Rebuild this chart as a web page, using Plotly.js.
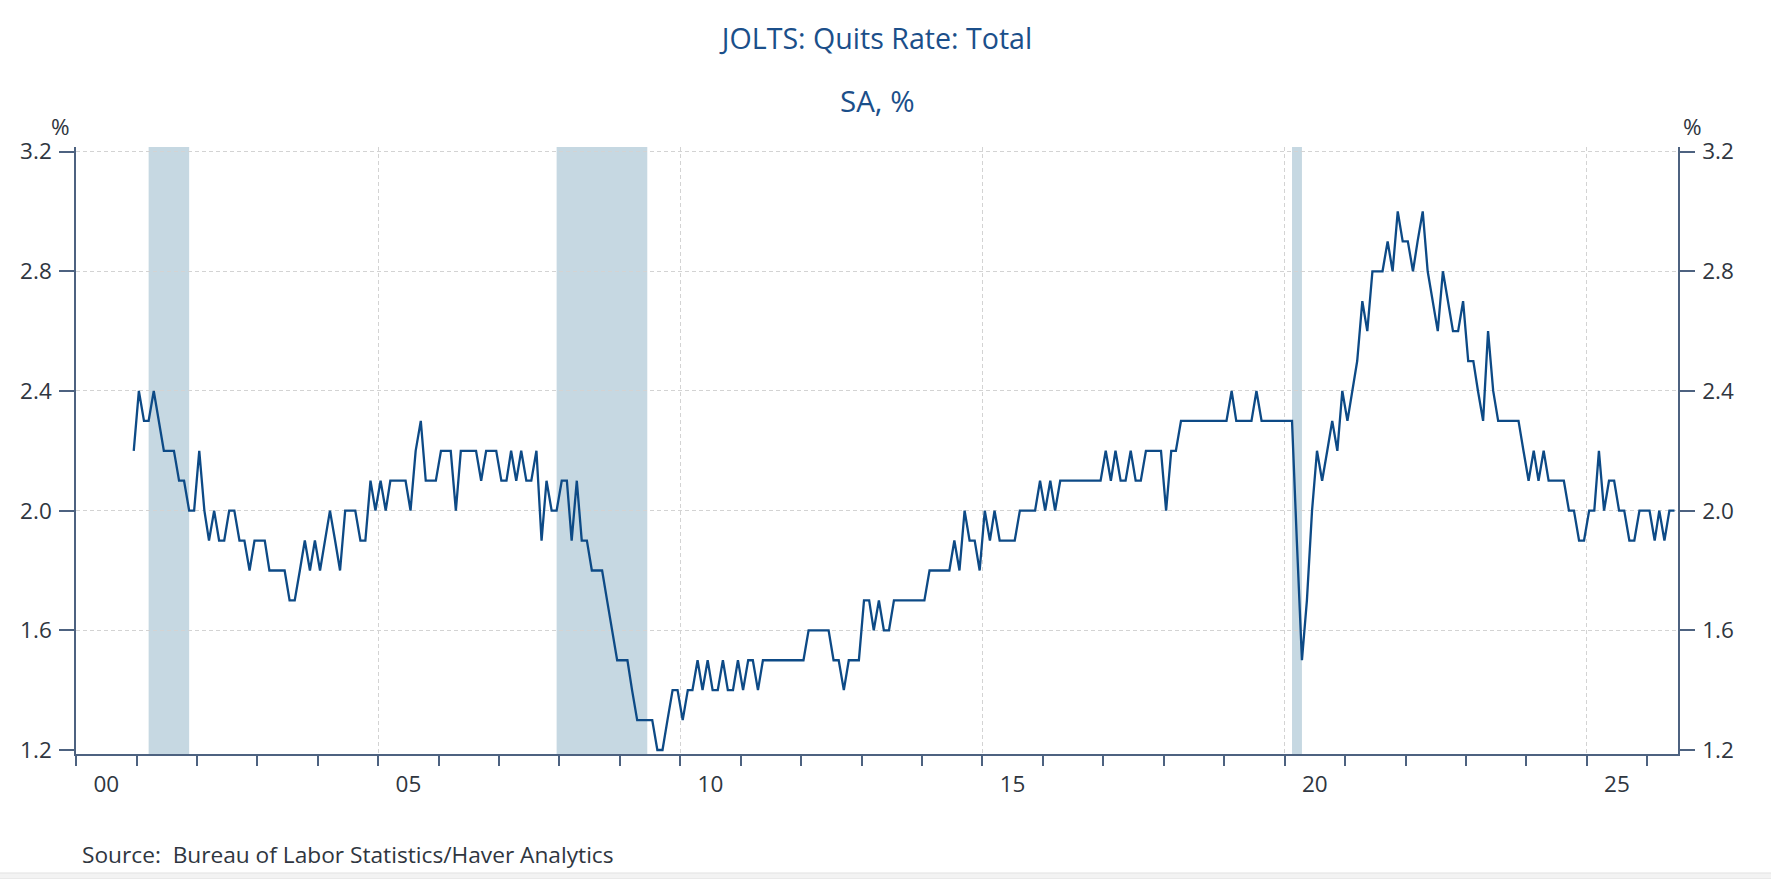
<!DOCTYPE html>
<html>
<head>
<meta charset="utf-8">
<script src="https://cdn.plot.ly/plotly-3.0.1.min.js"></script>
<style>
  html, body { margin: 0; padding: 0; background: #ffffff; }
  #chart { width: 1771px; height: 879px; }
</style>
</head>
<body>
<div id="chart"></div>
<script>
// JOLTS quits rate, monthly, SA, % (first value = Dec 2000)
const firstMonth = '2000-12';
const quitsRate = [
  2.2,                                                            // 2000 Dec
  2.4, 2.3, 2.3, 2.4, 2.3, 2.2, 2.2, 2.2, 2.1, 2.1, 2.0, 2.0,     // 2001
  2.2, 2.0, 1.9, 2.0, 1.9, 1.9, 2.0, 2.0, 1.9, 1.9, 1.8, 1.9,     // 2002
  1.9, 1.9, 1.8, 1.8, 1.8, 1.8, 1.7, 1.7, 1.8, 1.9, 1.8, 1.9,     // 2003
  1.8, 1.9, 2.0, 1.9, 1.8, 2.0, 2.0, 2.0, 1.9, 1.9, 2.1, 2.0,     // 2004
  2.1, 2.0, 2.1, 2.1, 2.1, 2.1, 2.0, 2.2, 2.3, 2.1, 2.1, 2.1,     // 2005
  2.2, 2.2, 2.2, 2.0, 2.2, 2.2, 2.2, 2.2, 2.1, 2.2, 2.2, 2.2,     // 2006
  2.1, 2.1, 2.2, 2.1, 2.2, 2.1, 2.1, 2.2, 1.9, 2.1, 2.0, 2.0,     // 2007
  2.1, 2.1, 1.9, 2.1, 1.9, 1.9, 1.8, 1.8, 1.8, 1.7, 1.6, 1.5,     // 2008
  1.5, 1.5, 1.4, 1.3, 1.3, 1.3, 1.3, 1.2, 1.2, 1.3, 1.4, 1.4,     // 2009
  1.3, 1.4, 1.4, 1.5, 1.4, 1.5, 1.4, 1.4, 1.5, 1.4, 1.4, 1.5,     // 2010
  1.4, 1.5, 1.5, 1.4, 1.5, 1.5, 1.5, 1.5, 1.5, 1.5, 1.5, 1.5,     // 2011
  1.5, 1.6, 1.6, 1.6, 1.6, 1.6, 1.5, 1.5, 1.4, 1.5, 1.5, 1.5,     // 2012
  1.7, 1.7, 1.6, 1.7, 1.6, 1.6, 1.7, 1.7, 1.7, 1.7, 1.7, 1.7,     // 2013
  1.7, 1.8, 1.8, 1.8, 1.8, 1.8, 1.9, 1.8, 2.0, 1.9, 1.9, 1.8,     // 2014
  2.0, 1.9, 2.0, 1.9, 1.9, 1.9, 1.9, 2.0, 2.0, 2.0, 2.0, 2.1,     // 2015
  2.0, 2.1, 2.0, 2.1, 2.1, 2.1, 2.1, 2.1, 2.1, 2.1, 2.1, 2.1,     // 2016
  2.2, 2.1, 2.2, 2.1, 2.1, 2.2, 2.1, 2.1, 2.2, 2.2, 2.2, 2.2,     // 2017
  2.0, 2.2, 2.2, 2.3, 2.3, 2.3, 2.3, 2.3, 2.3, 2.3, 2.3, 2.3,     // 2018
  2.3, 2.4, 2.3, 2.3, 2.3, 2.3, 2.4, 2.3, 2.3, 2.3, 2.3, 2.3,     // 2019
  2.3, 2.3, 1.9, 1.5, 1.7, 2.0, 2.2, 2.1, 2.2, 2.3, 2.2, 2.4,     // 2020
  2.3, 2.4, 2.5, 2.7, 2.6, 2.8, 2.8, 2.8, 2.9, 2.8, 3.0, 2.9,     // 2021
  2.9, 2.8, 2.9, 3.0, 2.8, 2.7, 2.6, 2.8, 2.7, 2.6, 2.6, 2.7,     // 2022
  2.5, 2.5, 2.4, 2.3, 2.6, 2.4, 2.3, 2.3, 2.3, 2.3, 2.3, 2.2,     // 2023
  2.1, 2.2, 2.1, 2.2, 2.1, 2.1, 2.1, 2.1, 2.0, 2.0, 1.9, 1.9,     // 2024
  2.0, 2.0, 2.2, 2.0, 2.1, 2.1, 2.0, 2.0, 1.9, 1.9, 2.0, 2.0,     // 2025
  2.0, 1.9, 2.0, 1.9, 2.0, 2.0                                    // 2026
];

// NBER recessions (peak month to trough month)
const recessionStart = ['2001-03-15', '2007-12-15', '2020-02-15'];
const recessionEnd   = ['2001-11-15', '2009-06-15', '2020-04-15'];

// axes
const xRange = ['2000-01-01', '2026-07-06'];
const xLabelYears = [2000, 2005, 2010, 2015, 2020, 2025];
const xLabelText = ['00', '05', '10', '15', '20', '25'];
const yTicks = [1.2, 1.6, 2.0, 2.4, 2.8, 3.2];
const yGrid = [1.6, 2.0, 2.4, 2.8, 3.2];
const yRange = [1.1866, 3.2154];

const axisColor = '#4d6280';
const textColor = '#2f3640';
const titleColor = '#1b4f8a';
const lineColor = '#0d4a86';
const gridColor = '#d3d3d3';
const fontFamily = '"Open Sans", "Noto Sans", sans-serif';

// monthly points are plotted mid-month
function monthDates(start, n) {
  let [y, m] = start.split('-').map(Number);
  const out = [];
  for (let i = 0; i < n; i++) {
    out.push(y + '-' + String(m).padStart(2, '0') + '-15');
    m++;
    if (m > 12) { m = 1; y++; }
  }
  return out;
}

const dates = monthDates(firstMonth, quitsRate.length);
const labelDates = xLabelYears.map(y => y + '-07-02');

const quitsTrace = {
  type: 'scatter',
  mode: 'lines',
  x: dates,
  y: quitsRate,
  xaxis: 'x',
  yaxis: 'y',
  line: { color: lineColor, width: 2.3 },
  hovertemplate: '%{x|%b %Y}: %{y:.1f}%<extra></extra>'
};

// invisible copies so the overlay axes get drawn
const ghostRight = {
  type: 'scatter', mode: 'lines', x: dates, y: quitsRate,
  xaxis: 'x2', yaxis: 'y2', opacity: 0, hoverinfo: 'skip', showlegend: false
};
const ghostGrid = {
  type: 'scatter', mode: 'lines', x: dates, y: quitsRate,
  xaxis: 'x', yaxis: 'y3', opacity: 0, hoverinfo: 'skip', showlegend: false
};

const recessionShapes = recessionStart.map((s, i) => ({
  type: 'rect',
  xref: 'x', yref: 'paper',
  x0: s, x1: recessionEnd[i],
  y0: 0, y1: 1,
  fillcolor: '#c6d8e2',
  line: { width: 0 },
  layer: 'between'
}));

// thin grey strip along the bottom edge of the picture
const bottomStrip = {
  type: 'rect', xref: 'paper', yref: 'paper',
  x0: -0.06, x1: 1.07, y0: -0.2058, y1: -0.1960,
  fillcolor: '#f3f3f3', line: { color: '#e2e2e2', width: 1 },
  layer: 'below'
};

const tickFont = { family: fontFamily, size: 22.5, color: textColor };

const layout = {
  width: 1771,
  height: 879,
  margin: { l: 76, r: 93, t: 147, b: 125, pad: 0 },
  paper_bgcolor: '#ffffff',
  plot_bgcolor: '#ffffff',
  showlegend: false,
  font: { family: fontFamily, color: textColor },
  title: {
    text: 'JOLTS: Quits Rate: Total',
    font: { family: fontFamily, size: 28.6, color: titleColor },
    xref: 'paper', x: 0.5, xanchor: 'center',
    yref: 'container', y: 0.9559, yanchor: 'middle'
  },
  xaxis: {
    type: 'date',
    range: xRange,
    tick0: '2000-01-01',
    dtick: 'M60',
    ticks: 'outside',
    ticklen: 10,
    tickwidth: 1.5,
    tickcolor: axisColor,
    showticklabels: false,
    showgrid: true,
    gridcolor: gridColor,
    griddash: '4px,3px',
    gridwidth: 1,
    showline: true,
    linecolor: axisColor,
    linewidth: 1.5,
    zeroline: false,
    minor: {
      tick0: '2000-01-01',
      dtick: 'M12',
      ticks: 'outside',
      ticklen: 10,
      tickwidth: 1.5,
      tickcolor: axisColor,
      showgrid: false
    }
  },
  xaxis2: {
    type: 'date',
    overlaying: 'x',
    anchor: 'y',
    side: 'bottom',
    range: xRange,
    tickmode: 'array',
    tickvals: labelDates,
    ticktext: xLabelText,
    ticks: '',
    showgrid: false,
    showline: false,
    zeroline: false,
    tickfont: tickFont,
    ticklabelstandoff: 14
  },
  yaxis: {
    range: yRange,
    tickmode: 'array',
    tickvals: yTicks,
    ticktext: yTicks.map(v => v.toFixed(1)),
    ticks: 'outside',
    ticklen: 15,
    tickwidth: 1.5,
    tickcolor: axisColor,
    showline: true,
    linecolor: axisColor,
    linewidth: 1.5,
    showgrid: false,
    zeroline: false,
    tickfont: tickFont,
    ticklabelstandoff: 3
  },
  yaxis2: {
    overlaying: 'y',
    side: 'right',
    anchor: 'x',
    range: yRange,
    tickmode: 'array',
    tickvals: yTicks,
    ticktext: yTicks.map(v => v.toFixed(1)),
    ticks: 'outside',
    ticklen: 15,
    tickwidth: 1.5,
    tickcolor: axisColor,
    showline: true,
    linecolor: axisColor,
    linewidth: 1.5,
    showgrid: false,
    zeroline: false,
    tickfont: tickFont,
    ticklabelstandoff: 3
  },
  yaxis3: {
    overlaying: 'y',
    anchor: 'x',
    range: yRange,
    tickmode: 'array',
    tickvals: yGrid,
    showticklabels: false,
    ticks: '',
    showline: false,
    showgrid: true,
    gridcolor: gridColor,
    griddash: '4px,3px',
    gridwidth: 1,
    zeroline: false
  },
  shapes: [bottomStrip, ...recessionShapes],
  annotations: [
    {
      text: 'SA, %', xref: 'paper', yref: 'paper', x: 0.5, y: 1.0767,
      xanchor: 'center', yanchor: 'middle', showarrow: false,
      font: { family: fontFamily, size: 29.5, color: titleColor }
    },
    {
      text: '%', xref: 'paper', yref: 'paper', x: -0.00955, y: 1.0339,
      xanchor: 'center', yanchor: 'middle', showarrow: false,
      font: { family: fontFamily, size: 22.5, color: textColor }
    },
    {
      text: '%', xref: 'paper', yref: 'paper', x: 1.00893, y: 1.0339,
      xanchor: 'center', yanchor: 'middle', showarrow: false,
      font: { family: fontFamily, size: 22.5, color: textColor }
    },
    {
      text: 'Source:  Bureau of Labor Statistics/Haver Analytics',
      xref: 'paper', yref: 'paper', x: 0.0026, y: -0.1663,
      xanchor: 'left', yanchor: 'middle', showarrow: false,
      font: { family: fontFamily, size: 22.7, color: textColor }
    }
  ]
};

const config = { displayModeBar: false, responsive: false };

Plotly.newPlot('chart', [quitsTrace, ghostRight, ghostGrid], layout, config);
</script>
</body>
</html>
